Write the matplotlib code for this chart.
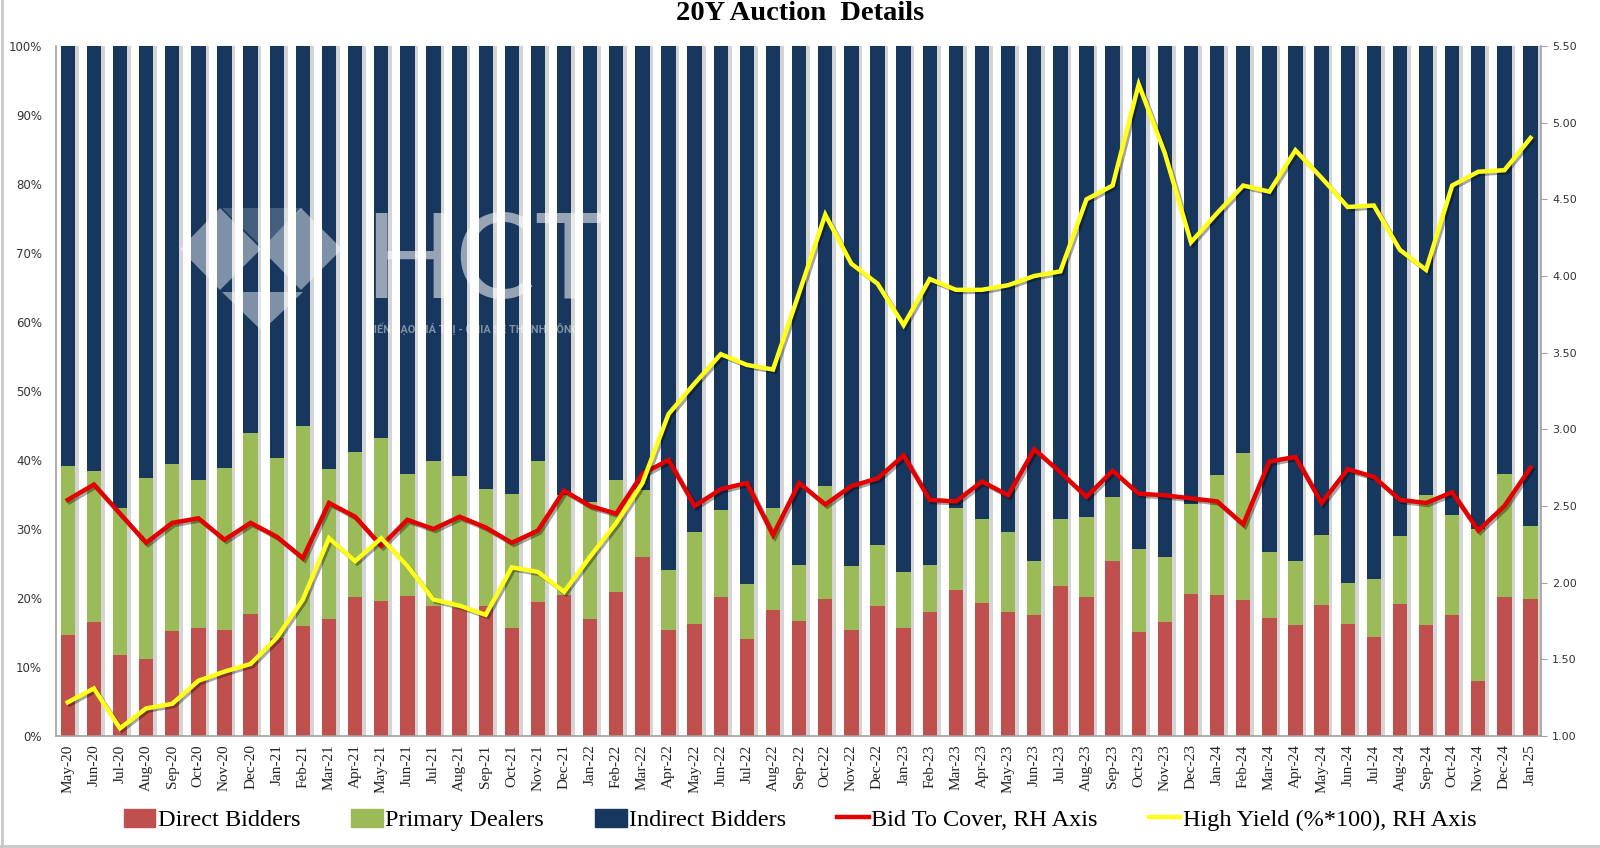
import matplotlib.pyplot as plt
import matplotlib.patheffects as pe
from matplotlib.patches import Polygon, Patch
from matplotlib.lines import Line2D
import numpy as np

months = ["May-20", "Jun-20", "Jul-20", "Aug-20", "Sep-20", "Oct-20", "Nov-20", "Dec-20",
          "Jan-21", "Feb-21", "Mar-21", "Apr-21", "May-21", "Jun-21", "Jul-21", "Aug-21",
          "Sep-21", "Oct-21", "Nov-21", "Dec-21",
          "Jan-22", "Feb-22", "Mar-22", "Apr-22", "May-22", "Jun-22", "Jul-22", "Aug-22",
          "Sep-22", "Oct-22", "Nov-22", "Dec-22",
          "Jan-23", "Feb-23", "Mar-23", "Apr-23", "May-23", "Jun-23", "Jul-23", "Aug-23",
          "Sep-23", "Oct-23", "Nov-23", "Dec-23",
          "Jan-24", "Feb-24", "Mar-24", "Apr-24", "May-24", "Jun-24", "Jul-24", "Aug-24",
          "Sep-24", "Oct-24", "Nov-24", "Dec-24",
          "Jan-25"]

# shares of each auction, in %
direct = [14.7, 16.5, 11.8, 11.2, 15.2, 15.6, 15.3, 17.7,
          14.2, 16.0, 17.0, 20.2, 19.6, 20.3, 18.9, 18.6, 18.8, 15.6, 19.4, 20.5,
          17.0, 20.9, 26.0, 15.3, 16.3, 20.2, 14.1, 18.3, 16.6, 19.9, 15.4, 18.9,
          15.6, 18.0, 21.1, 19.3, 18.0, 17.6, 21.7, 20.2, 25.3, 15.1, 16.5, 20.6,
          20.4, 19.7, 17.1, 16.1, 19.0, 16.3, 14.4, 19.2, 16.1, 17.5, 8.0, 20.1,
          19.9]
primary = [24.5, 21.9, 21.2, 26.2, 24.2, 21.5, 23.5, 26.2,
           26.1, 29.0, 21.7, 21.0, 23.6, 17.6, 21.0, 19.1, 17.0, 19.5, 20.5, 14.5,
           16.9, 16.2, 9.6, 8.7, 13.2, 12.5, 8.0, 14.7, 8.2, 16.4, 9.3, 8.8,
           8.1, 6.8, 11.9, 12.2, 11.5, 7.8, 9.7, 11.5, 9.3, 12.0, 9.4, 13.0,
           17.4, 21.3, 9.5, 9.2, 10.2, 5.9, 8.4, 9.8, 18.8, 14.6, 22.0, 17.9,
           10.6]
indirect = [60.8, 61.6, 67.0, 62.6, 60.6, 62.9, 61.2, 56.1,
            59.7, 55.0, 61.3, 58.8, 56.8, 62.1, 60.1, 62.3, 64.2, 64.9, 60.1, 65.0,
            66.1, 62.9, 64.4, 76.0, 70.5, 67.3, 77.9, 67.0, 75.2, 63.7, 75.3, 72.3,
            76.3, 75.2, 67.0, 68.5, 70.5, 74.6, 68.6, 68.3, 65.4, 72.9, 74.1, 66.4,
            62.2, 59.0, 73.4, 74.7, 70.8, 77.8, 77.2, 71.0, 65.1, 67.9, 70.0, 62.0,
            69.5]

# right hand axis
bid_to_cover = [2.54, 2.64, 2.45, 2.26, 2.39, 2.42, 2.28, 2.39,
                2.30, 2.16, 2.52, 2.43, 2.24, 2.41, 2.35, 2.43, 2.36, 2.26, 2.34, 2.60,
                2.50, 2.45, 2.71, 2.80, 2.50, 2.61, 2.65, 2.31, 2.65, 2.51, 2.63, 2.68,
                2.83, 2.54, 2.53, 2.66, 2.57, 2.87, 2.72, 2.56, 2.73, 2.58, 2.57, 2.55,
                2.53, 2.38, 2.79, 2.82, 2.52, 2.74, 2.69, 2.54, 2.52, 2.59, 2.34, 2.50,
                2.75]
high_yield = [1.22, 1.31, 1.05, 1.18, 1.21, 1.36, 1.42, 1.47,
              1.64, 1.89, 2.29, 2.14, 2.29, 2.11, 1.89, 1.85, 1.79, 2.10, 2.07, 1.94,
              2.17, 2.39, 2.65, 3.10, 3.30, 3.49, 3.42, 3.39, 3.89, 4.40, 4.08, 3.95,
              3.68, 3.98, 3.91, 3.91, 3.94, 4.00, 4.03, 4.50, 4.59, 5.25, 4.80, 4.22,
              4.41, 4.59, 4.55, 4.82, 4.64, 4.45, 4.46, 4.17, 4.04, 4.59, 4.68, 4.69,
              4.90]

RED = '#C0504D'
GREEN = '#9BBB59'
NAVY = '#17375E'
SERIF = 'Liberation Serif'

fig = plt.figure(figsize=(16, 8.48), dpi=100)
ax = fig.add_axes([56 / 1600, 1 - 736 / 848, 1485 / 1600, 690 / 848])

x = np.arange(len(months))
w = 0.55
d = np.array(direct)
p = np.array(primary)
ind = np.array(indirect)

# soft shadow behind bars
ax.bar(x + 0.14, d + p + ind, w, color='#d4d4d4', zorder=1)
ax.bar(x, d, w, color=RED, zorder=2)
ax.bar(x, p, w, bottom=d, color=GREEN, zorder=2)
ax.bar(x, ind, w, bottom=d + p, color=NAVY, zorder=2)

ax.set_xlim(-0.45, 56.4)
ax.set_ylim(0, 100)
ax.set_yticks(range(0, 101, 10))
ax.set_yticklabels([f"{v}%" for v in range(0, 101, 10)], fontsize=8.5, color='#333333')
ax.set_xticks(x)
ax.set_xticklabels(months, rotation=90, family=SERIF, fontsize=11, color='#222222')
ax.tick_params(axis='both', length=0)
ax.tick_params(axis='y', pad=10)
ax.tick_params(axis='x', pad=6)
for s in ['top', 'right']:
    ax.spines[s].set_visible(False)
for s in ['left', 'bottom']:
    ax.spines[s].set_color('#a0a0a0')
    ax.spines[s].set_linewidth(1.2)

ax2 = ax.twinx()
shadow = [pe.SimpleLineShadow(offset=(1.5, -1.5), alpha=0.35), pe.Normal()]
ax2.plot(x, bid_to_cover, color='#E50000', lw=3.2, solid_joinstyle='miter', path_effects=shadow, zorder=3)
ax2.plot(x, high_yield, color='#FFFF1A', lw=3.2, solid_joinstyle='miter', path_effects=shadow, zorder=3)
ax2.set_ylim(1.0, 5.5)
rt = np.arange(1.0, 5.51, 0.5)
ax2.set_yticks(rt)
ax2.set_yticklabels([f"{v:.2f}" for v in rt], fontsize=8, color='#333333')
ax2.tick_params(axis='y', length=4, color='#a0a0a0', pad=4)
for s in ['top', 'left', 'bottom']:
    ax2.spines[s].set_visible(False)
ax2.spines['right'].set_color('#a0a0a0')
ax2.spines['right'].set_linewidth(1.2)

fig.text(800 / 1600, 1 - 14 / 848, "20Y Auction  Details", ha='center', va='center',
         family=SERIF, weight='bold', fontsize=20.5)

handles = [Patch(color=RED), Patch(color=GREEN), Patch(color=NAVY),
           Line2D([], [], color='#E50000', lw=3.2), Line2D([], [], color='#FFFF1A', lw=3.2)]
labels = ["Direct Bidders", "Primary Dealers", "Indirect Bidders",
          "Bid To Cover, RH Axis", "High Yield (%*100), RH Axis"]
fig.legend(handles, labels, loc='center', bbox_to_anchor=(0.5, 1 - 820 / 848), ncol=5,
           frameon=False, prop={'family': SERIF, 'size': 17.5}, handlelength=1.3,
           handleheight=0.8, handletextpad=0.1, columnspacing=2.1)

# watermark
def fx(px):
    return px / 1600

def fy(py):
    return 1 - py / 848

wm = dict(facecolor='white', edgecolor='none', alpha=0.45, transform=fig.transFigure, zorder=5)
for pts in [[(180, 249), (220, 208), (261, 249), (220, 290)],
            [(261, 249), (301, 208), (342, 249), (301, 290)],
            [(222, 292), (303, 292), (262, 331)]]:
    fig.patches.append(Polygon([(fx(a), fy(b)) for a, b in pts], **wm))
fig.patches.append(Polygon([(fx(a), fy(b)) for a, b in [(222, 208), (303, 208), (262, 247)]],
                           facecolor='white', edgecolor='none', alpha=0.2,
                           transform=fig.transFigure, zorder=5))
fig.text(fx(364), fy(298), "HCT", family='Lato', fontsize=86, color='white',
         alpha=0.55, va='baseline', ha='left', zorder=5)
fig.text(fx(367), fy(333), "KIẾN TẠO GIÁ TRỊ - CHIA SẺ THÀNH CÔNG", family='Roboto',
         weight='bold', fontsize=7.8, color='white', alpha=0.45, va='baseline', ha='left', zorder=5)

# frame edges
fig.add_artist(Line2D([0.001, 0.001], [0, 1], color='#c8c8c8', lw=2, transform=fig.transFigure))
fig.add_artist(Line2D([0, 1], [0.002, 0.002], color='#c8c8c8', lw=2, transform=fig.transFigure))

fig.savefig("out.png", dpi=100)
